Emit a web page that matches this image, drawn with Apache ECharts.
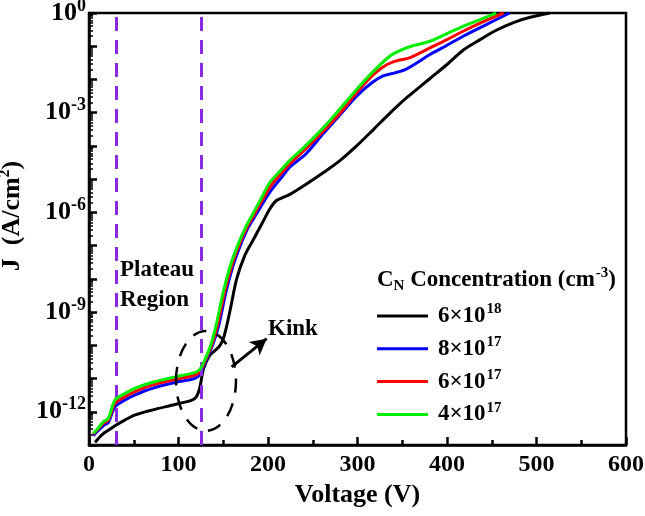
<!DOCTYPE html>
<html>
<head>
<meta charset="utf-8">
<script src="https://cdn.jsdelivr.net/npm/echarts@6/dist/echarts.min.js"></script>
<style>
  html, body { margin: 0; padding: 0; background: #fff; }
  #chart { width: 645px; height: 516px; }
</style>
</head>
<body>
<div id="chart"></div>
<script>
const FONT = '"Liberation Serif", "Times New Roman", serif';

// legend names, "^" marks the exponent
const seriesNames = ['6×10^18', '8×10^17', '6×10^17', '4×10^17'];
const seriesColors = ['#000000', '#0000ff', '#ff0000', '#00ee00'];

// 6x10^18
const vBlack = [6.7, 15, 22, 29, 40, 51, 70, 96, 115, 120, 124, 128, 135, 141, 146, 150, 154, 158, 165, 174, 184, 193, 202, 209, 217, 225, 240, 262, 280, 299, 318, 336, 355, 381, 400, 418, 437, 455, 475, 493, 515];
const jBlack = [1.2e-13, 2.09e-13, 2.82e-13, 3.8e-13, 5.62e-13, 7.94e-13, 1.12e-12, 1.66e-12, 2.24e-12, 2.82e-12, 5.62e-12, 2.0e-11, 5.01e-11, 7.08e-11, 9.55e-11, 1.58e-10, 3.98e-10, 1.26e-9, 1e-8, 5.01e-8, 1.58e-7, 4.47e-7, 1.26e-6, 2.24e-6, 2.82e-6, 3.55e-6, 6.31e-6, 1.58e-5, 3.55e-5, 1e-4, 3.16e-4, 9.55e-4, 2.82e-3, 1.07e-2, 2.82e-2, 7.59e-2, 0.158, 0.302, 0.525, 0.741, 1];

// 8x10^17
const vBlue = [4.8, 10, 16, 21.6, 29, 40, 51, 70, 96, 118, 124, 130, 138, 145, 153, 161, 169, 178, 187, 197, 206, 216, 225, 242, 262, 281, 299, 316, 328, 342, 355, 381, 400, 418, 440, 470];
const jBlue = [1.91e-13, 2.69e-13, 3.8e-13, 4.79e-13, 1.41e-12, 2.24e-12, 3.16e-12, 5.01e-12, 7.59e-12, 1e-11, 1.32e-11, 3.16e-11, 1e-10, 3.98e-10, 3.98e-9, 2.51e-8, 1e-7, 3.55e-7, 8.91e-7, 2.51e-6, 5.62e-6, 1.2e-5, 2.4e-5, 5.62e-5, 2.4e-4, 8.91e-4, 3.16e-3, 7.94e-3, 1.26e-2, 1.58e-2, 2.09e-2, 5.62e-2, 0.107, 0.2, 0.398, 1];

// 6x10^17
const vRed = [4.8, 10, 16, 21.6, 29, 40, 51, 70, 96, 118, 124, 130, 137, 143.5, 151.5, 159.5, 167.5, 176.5, 185.5, 195, 204, 214, 226, 241, 262, 281, 299, 318, 333, 345, 358, 381, 400, 418, 440, 463];
const jRed = [2.09e-13, 3.02e-13, 4.47e-13, 5.62e-13, 1.78e-12, 2.82e-12, 3.98e-12, 6.31e-12, 9.33e-12, 1.26e-11, 1.58e-11, 3.55e-11, 1e-10, 3.98e-10, 3.98e-9, 2.51e-8, 1e-7, 3.55e-7, 9.55e-7, 2.69e-6, 6.76e-6, 1.41e-5, 3.16e-5, 7.59e-5, 2.82e-4, 1e-3, 3.98e-3, 1.41e-2, 2.82e-2, 3.72e-2, 4.47e-2, 8.91e-2, 0.158, 0.282, 0.537, 1];

// 4x10^17
const vGreen = [4.8, 10, 16, 21.6, 29, 40, 51, 70, 96, 118, 124, 130, 136, 142, 150, 158, 166, 175, 184, 193, 202, 212, 225, 240, 262, 280, 299, 318, 336, 346, 360, 381, 400, 418, 437, 455];
const jGreen = [2.24e-13, 3.16e-13, 5.01e-13, 6.31e-13, 2.24e-12, 3.55e-12, 5.01e-12, 7.59e-12, 1.12e-11, 1.51e-11, 1.91e-11, 3.98e-11, 1e-10, 3.98e-10, 3.98e-9, 2.51e-8, 1e-7, 3.55e-7, 1e-6, 2.82e-6, 7.94e-6, 1.58e-5, 3.8e-5, 8.91e-5, 3.55e-4, 1.26e-3, 5.01e-3, 1.78e-2, 5.01e-2, 7.08e-2, 0.1, 0.141, 0.24, 0.398, 0.631, 1];

// dashed boundaries of the plateau region (V)
const plateauEdges = [30, 125];

// minor ticks of the log axis: 2..9 x 10^n
const minorMantissas = [2, 3, 4, 5, 6, 7, 8, 9];
const minorTicks = [];
for (let n = -13; n < 0; n++) {
  minorMantissas.forEach(m => minorTicks.push(m * Math.pow(10, n)));
}

const volts = [vBlack, vBlue, vRed, vGreen];
const currents = [jBlack, jBlue, jRed, jGreen];

const supRich = {
  b: { fontFamily: FONT, fontWeight: 'bold', fontSize: 23, lineHeight: 28, color: '#000' },
  s: { fontFamily: FONT, fontWeight: 'bold', fontSize: 15, lineHeight: 28, verticalAlign: 'top', color: '#000', padding: [0, 0, 0, 1] },
  n: { fontFamily: FONT, fontWeight: 'bold', fontSize: 15, lineHeight: 24, verticalAlign: 'bottom', color: '#000' }
};

const chart = echarts.init(document.getElementById('chart'));

const series = seriesNames.map((name, k) => ({
  name: name,
  type: 'line',
  symbol: 'none',
  smooth: 0.3,
  z: 2 + k,
  lineStyle: { color: seriesColors[k], width: 3 },
  itemStyle: { color: seriesColors[k] },
  data: volts[k].map((v, i) => [v, currents[k][i]])
}));

// purple dashed lines and the kink arrow
series[0].markLine = {
  silent: true,
  symbol: ['none', 'none'],
  label: { show: false },
  animation: false,
  data: [
    { xAxis: plateauEdges[0], lineStyle: { color: '#8a2be2', type: [14, 9], width: 3 } },
    { xAxis: plateauEdges[1], lineStyle: { color: '#8a2be2', type: [14, 9], width: 3 } },
    [
      { coord: [159.4, 2.24e-11], symbol: 'none' },
      { coord: [198.5, 1.58e-10], symbol: 'arrow', symbolSize: [13, 16], lineStyle: { color: '#000', type: 'solid', width: 3 } }
    ]
  ]
};

chart.setOption({
  animation: false,
  backgroundColor: '#fff',
  grid: {
    left: 89, right: 19, top: 13, bottom: 71,
    outerBoundsMode: 'none',
    show: true, borderColor: '#000', borderWidth: 2.5
  },
  title: {
    left: 377,
    top: 266,
    padding: 0,
    text: '{b|C}{n|N}{b| Concentration (cm}{s|-3}{b|)}',
    textStyle: { rich: supRich }
  },
  legend: {
    orient: 'vertical',
    left: 377,
    top: 302,
    padding: 0,
    icon: 'rect',
    itemWidth: 51,
    itemHeight: 3,
    itemGap: 7.3,
    data: seriesNames,
    formatter: name => {
      const parts = name.split('^');
      return '{b|' + parts[0] + '}{s|' + parts[1] + '}';
    },
    textStyle: { rich: supRich, padding: [0, 0, 0, 5] }
  },
  xAxis: {
    type: 'value',
    min: 0,
    max: 600,
    interval: 100,
    name: 'Voltage (V)',
    nameLocation: 'middle',
    nameGap: 34,
    nameTextStyle: { fontFamily: FONT, fontWeight: 'bold', fontSize: 26, color: '#000' },
    axisLine: { lineStyle: { color: '#000', width: 2.5 } },
    axisTick: { inside: true, length: 8, lineStyle: { color: '#000', width: 2.5 } },
    minorTick: { show: true, splitNumber: 2, length: 5, lineStyle: { color: '#000', width: 2.5 } },
    splitLine: { show: false },
    axisLabel: { fontFamily: FONT, fontWeight: 'bold', fontSize: 24, color: '#000', margin: 8 }
  },
  yAxis: [
    {
      type: 'log',
      logBase: 10,
      min: 1e-13,
      max: 1,
      interval: 1,
      name: '{b|J  (A/cm}{s|2}{b|)}',
      nameLocation: 'middle',
      nameGap: 55,
      nameRotate: 90,
      nameTextStyle: {
        rich: {
          b: { fontFamily: FONT, fontWeight: 'bold', fontSize: 26, lineHeight: 30, color: '#000' },
          s: { fontFamily: FONT, fontWeight: 'bold', fontSize: 16, lineHeight: 30, verticalAlign: 'top', color: '#000' }
        },
        padding: [0, 0, 0, 26]
      },
      axisLine: { lineStyle: { color: '#000', width: 2.5 } },
      axisTick: { inside: true, length: 8, lineStyle: { color: '#000', width: 2.5 } },
      splitLine: { show: false },
      axisLabel: {
        margin: 3,
        formatter: value => {
          const e = Math.round(Math.log10(value));
          if (e % 3 !== 0) return '';
          return '{b|10}{s|' + (e === 0 ? '0' : '-' + Math.abs(e)) + '}';
        },
        rich: {
          b: { fontFamily: FONT, fontWeight: 'bold', fontSize: 26, lineHeight: 32, color: '#000' },
          s: { fontFamily: FONT, fontWeight: 'bold', fontSize: 18, lineHeight: 32, verticalAlign: 'top', color: '#000' }
        }
      }
    },
    {
      // overlay axis carrying only the log-spaced minor ticks
      type: 'log',
      logBase: 10,
      min: 1e-13,
      max: 1,
      position: 'left',
      axisLine: { show: false },
      axisLabel: { show: false },
      splitLine: { show: false },
      axisTick: { show: true, inside: true, length: 4, customValues: minorTicks, lineStyle: { color: '#000', width: 1.5 } }
    }
  ],
  series: series
});

// dashed ellipse around the kink, placed in data space
const c = chart.convertToPixel({ gridIndex: 0 }, [130.7, 8.5e-12]);
const r = chart.convertToPixel({ gridIndex: 0 }, [164.2, 8.5e-12]);
const t = chart.convertToPixel({ gridIndex: 0 }, [130.7, 2.7e-10]);

chart.setOption({
  graphic: [
    {
      type: 'ellipse',
      shape: { cx: c[0], cy: c[1], rx: r[0] - c[0], ry: c[1] - t[1] },
      style: { fill: 'none', stroke: '#000', lineWidth: 2.5, lineDash: [14, 11] },
      z: 10
    },
    {
      type: 'text', left: 120, top: 259,
      style: { text: 'Plateau', font: 'bold 23px ' + FONT, fill: '#000' }
    },
    {
      type: 'text', left: 120, top: 289,
      style: { text: 'Region', font: 'bold 23px ' + FONT, fill: '#000' }
    },
    {
      type: 'text', left: 268, top: 318,
      style: { text: 'Kink', font: 'bold 23px ' + FONT, fill: '#000' }
    }
  ]
});
</script>
</body>
</html>
